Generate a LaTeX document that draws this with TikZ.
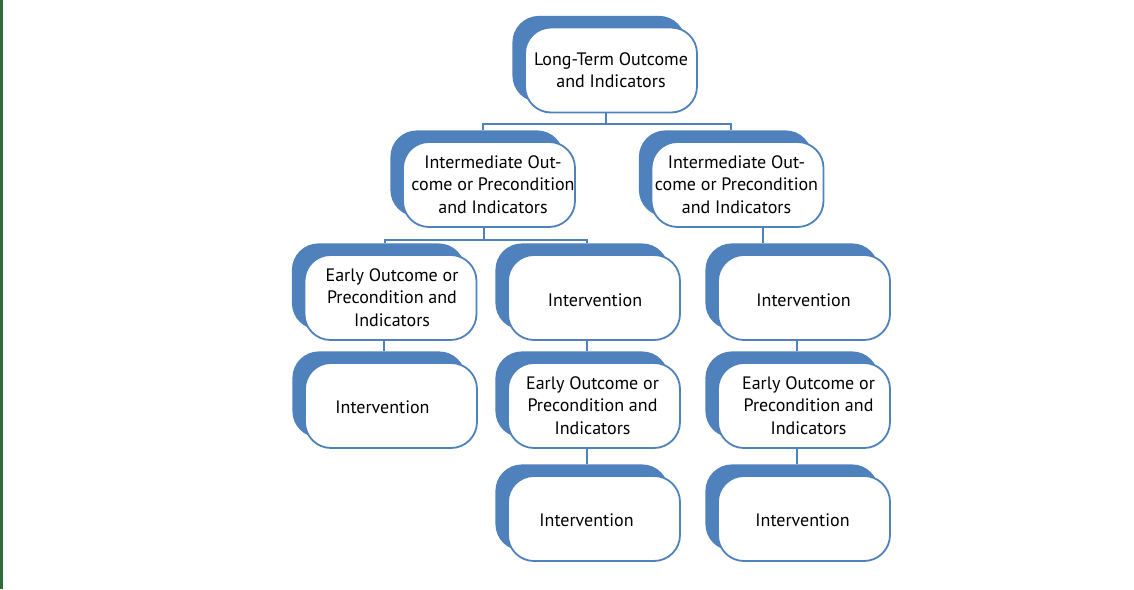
\documentclass[tikz,border=0pt]{standalone}
\usepackage{fontspec}
\setmainfont{PT Sans}
\definecolor{ob}{HTML}{4F81BD}
\definecolor{gl}{HTML}{2F6B3A}
\newcommand\tocbox[6]{% name, cx, cy, text x, text y, text
  \node[backbox] (#1b) at (#2-12,#3-11) {};
  \node[frontbox] (#1) at (#2,#3) {};
  \node[lbl] (#1t) at (#4,#5) {#6};
}
\begin{document}
\begin{tikzpicture}[x=1pt,y=-1pt,
  conn/.style={draw=ob, line width=1.8pt},
  backbox/.style={fill=ob, draw=ob, line width=1.2pt, rounded corners=26pt, minimum width=172pt, minimum height=85pt, inner sep=0pt},
  frontbox/.style={fill=white, draw=ob, line width=1.8pt, rounded corners=26pt, minimum width=172pt, minimum height=85pt, inner sep=0pt},
  lbl/.style={align=center, inner sep=0pt, font=\fontsize{18}{22.5}\selectfont, text=black}
]
\useasboundingbox (0,0) rectangle (1134,589);
\fill[gl] (0,0) rectangle (3,589);

\tocbox{A}{611}{70}{611}{70}{Long-Term Outcome\\and Indicators}
\tocbox{B}{489}{184.5}{493}{184.5}{Intermediate Out-\\come or Precondition\\and Indicators}
\tocbox{C}{737.5}{184.5}{736.5}{184.5}{Intermediate Out-\\come or Precondition\\and Indicators}
\tocbox{D}{390.5}{297.5}{392}{297.5}{Early Outcome or\\Precondition and\\Indicators}
\tocbox{E}{594}{297.5}{595}{300}{Intervention}
\tocbox{F}{804}{297.5}{803.5}{300}{Intervention}
\tocbox{G}{391}{405.5}{382.5}{407.5}{Intervention}
\tocbox{H}{594}{405.5}{592.5}{405.5}{Early Outcome or\\Precondition and\\Indicators}
\tocbox{I}{804}{405.5}{808.5}{405.5}{Early Outcome or\\Precondition and\\Indicators}
\tocbox{J}{594}{518.5}{586.5}{520.5}{Intervention}
\tocbox{K}{804}{518.5}{802.5}{520.5}{Intervention}

\coordinate (jA) at (606,124);
\coordinate (jB) at (483,124);
\coordinate (jC) at (731,124);
\coordinate (kB) at (484,240);
\coordinate (kD) at (385,240);
\coordinate (kE) at (587,240);
\coordinate (xCF) at (763,0);
\coordinate (xDG) at (384,0);
\coordinate (xEH) at (587,0);
\coordinate (xFI) at (797,0);

\draw[conn] (A.south -| jA) -- (jA);
\draw[conn] (Bb.north -| jB) -- (jB) -- (jC) -- (Cb.north -| jC);
\draw[conn] (B.south -| kB) -- (kB);
\draw[conn] (Db.north -| kD) -- (kD) -- (kE) -- (Eb.north -| kE);
\draw[conn] (C.south -| xCF) -- (Fb.north -| xCF);
\draw[conn] (D.south -| xDG) -- (Gb.north -| xDG);
\draw[conn] (E.south -| xEH) -- (Hb.north -| xEH);
\draw[conn] (H.south -| xEH) -- (Jb.north -| xEH);
\draw[conn] (F.south -| xFI) -- (Ib.north -| xFI);
\draw[conn] (I.south -| xFI) -- (Kb.north -| xFI);
\end{tikzpicture}
\end{document}
